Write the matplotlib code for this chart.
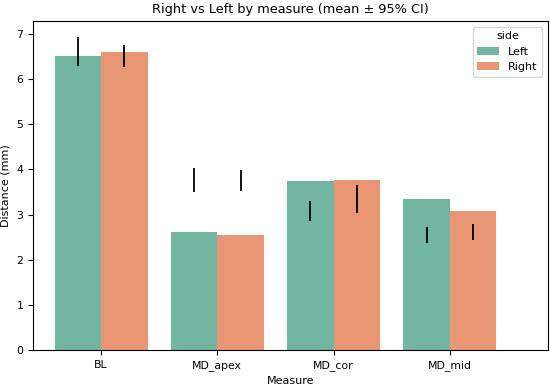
import numpy as np
import pandas as pd
import matplotlib
matplotlib.use("Agg")
import matplotlib.pyplot as plt
import seaborn as sns

measures = ["BL", "MD_apex", "MD_cor", "MD_mid"]
sides = ["Left", "Right"]
left_mean = [6.51, 2.61, 3.75, 3.34]
right_mean = [6.61, 2.55, 3.77, 3.07]
left_ci_lo = [6.30, 3.51, 2.86, 2.38]
left_ci_hi = [6.93, 4.04, 3.29, 2.73]
right_ci_lo = [6.26, 3.53, 3.03, 2.44]
right_ci_hi = [6.76, 3.99, 3.66, 2.79]

df = pd.DataFrame({
    "Measure": measures * 2,
    "side": ["Left"] * 4 + ["Right"] * 4,
    "value": left_mean + right_mean,
})

fig = plt.figure(figsize=(5.5, 3.88), dpi=100)
ax = fig.add_axes([0.06, 0.098, 0.936, 0.848])
sns.barplot(data=df, x="Measure", y="value", hue="side", hue_order=sides,
            palette="Set2", errorbar=None, ax=ax)

# CI bars drawn separately
x = np.arange(len(measures))
ax.vlines(x - 0.2, left_ci_lo, left_ci_hi, color="black", lw=1.3)
ax.vlines(x + 0.2, right_ci_lo, right_ci_hi, color="black", lw=1.3)

ax.set_xlim(-0.585, 3.843)
ax.set_ylim(0, 7.29)
ax.set_title("Right vs Left by measure (mean ± 95% CI)", fontsize=9.3)
ax.set_xlabel("Measure", fontsize=8)
ax.set_ylabel("Distance (mm)", fontsize=8)
ax.tick_params(labelsize=7.8)
ax.legend(title="side", loc="upper right", fontsize=8, title_fontsize=8)

fig.savefig("out.png", dpi=100)
